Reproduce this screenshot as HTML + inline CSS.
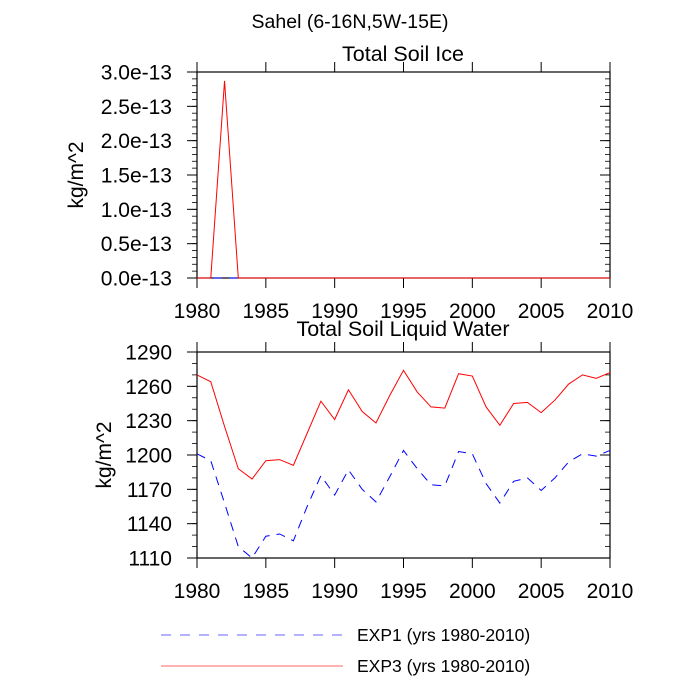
<!DOCTYPE html>
<html><head><meta charset="utf-8"><style>
html,body{margin:0;padding:0;background:#fff}
svg{display:block;font-family:"Liberation Sans",sans-serif}
</style></head><body>
<svg id="c" width="700" height="700" viewBox="0 0 700 700">
<text x="350" y="28" font-size="19.5" text-anchor="middle">Sahel (6-16N,5W-15E)</text>
<text x="403" y="61" font-size="21.5" text-anchor="middle">Total Soil Ice</text>
<text x="403" y="336" font-size="21.5" text-anchor="middle">Total Soil Liquid Water</text>
<text transform="translate(83,175) rotate(-90)" font-size="21" text-anchor="middle">kg/m^2</text>
<text transform="translate(111,455) rotate(-90)" font-size="21" text-anchor="middle">kg/m^2</text>
<g id="top"></g>
<g id="bot"></g>
<g>
<line x1="161" y1="635" x2="343" y2="635" stroke="#6666ff" stroke-width="1" stroke-dasharray="10,9"/>
<text x="357" y="641" font-size="17.5">EXP1 (yrs 1980-2010)</text>
<line x1="161" y1="666" x2="343" y2="666" stroke="#ff6666" stroke-width="1"/>
<text x="357" y="672" font-size="17.5">EXP3 (yrs 1980-2010)</text>
</g>
</svg>
<script>
const years=[];for(let y=1980;y<=2010;y++)years.push(y);
const xTicks=[1980,1985,1990,1995,2000,2005,2010];
const iceExp1=new Array(31).fill(0);
const iceExp3=[0,0,2.87,0,0,0,0,0,0,0,0,0,0,0,0,0,0,0,0,0,0,0,0,0,0,0,0,0,0,0,0];
const iceTicks=[0,0.5,1.0,1.5,2.0,2.5,3.0];
const iceTickLabels=["0.0e-13","0.5e-13","1.0e-13","1.5e-13","2.0e-13","2.5e-13","3.0e-13"];
const liqExp3=[1270,1264,1225,1188,1179,1195,1196,1191,1219,1247,1231,1257,1238,1228,1252,1274,1255,1242,1241,1271,1269,1242,1226,1245,1246,1237,1248,1262,1270,1267,1272];
const liqExp1=[1201,1195,1158,1120,1110,1129,1131,1125,1155,1182,1165,1187,1170,1159,1181,1204,1188,1174,1173,1203,1201,1175,1158,1177,1180,1169,1180,1194,1201,1199,1204];
const liqTicks=[1110,1140,1170,1200,1230,1260,1290];
const NS="http://www.w3.org/2000/svg";
function mk(p,t,a){const e=document.createElementNS(NS,t);for(const k in a)e.setAttribute(k,a[k]);p.appendChild(e);return e;}
function panel(g,top,bot,ymin,ymax,ticks,labels,minorStep,s1,s3){
  const L=197,R=610;
  const X=v=>L+(v-1980)*(R-L)/30;
  const Y=v=>bot-(v-ymin)*(bot-top)/(ymax-ymin);
  let b=mk(g,'rect',{x:L,y:top,width:R-L,height:bot-top,fill:'none',stroke:'#000','stroke-width':1.2});
  
  
  for(let v=ymin;v<=ymax+1e-9;v+=minorStep){
    const y=Y(v);
    mk(g,'line',{x1:L-5,y1:y,x2:L,y2:y,stroke:'#000','stroke-width':0.8});
    mk(g,'line',{x1:R-5,y1:y,x2:R,y2:y,stroke:'#000','stroke-width':0.8});
  }
  ticks.forEach((v,i)=>{
    const y=Y(v);
    mk(g,'line',{x1:L-10,y1:y,x2:L,y2:y,stroke:'#000','stroke-width':1});
    mk(g,'line',{x1:R-10,y1:y,x2:R,y2:y,stroke:'#000','stroke-width':1});
    const t=mk(g,'text',{x:L-25,y:y+7.5,'font-size':21,'text-anchor':'end'});
    t.textContent=labels?labels[i]:String(v);
    
    
  });
  xTicks.forEach(v=>{
    const x=X(v);
    mk(g,'line',{x1:x,y1:bot,x2:x,y2:bot+10,stroke:'#000','stroke-width':1});
    mk(g,'line',{x1:x,y1:top-10,x2:x,y2:top,stroke:'#000','stroke-width':1});
    const t=mk(g,'text',{x:x,y:bot+40,'font-size':21,'text-anchor':'middle'});
    t.textContent=String(v);
    
    
  });
  const p1=mk(g,'polyline',{points:s1.map((v,i)=>X(years[i])+','+Y(v)).join(' '),fill:'none',stroke:'#0000ff','stroke-width':1,'stroke-dasharray':'9,7'});
  
  
  const p3=mk(g,'polyline',{points:s3.map((v,i)=>X(years[i])+','+Y(v)).join(' '),fill:'none',stroke:'#ff0000','stroke-width':1});
  
  
}
panel(document.getElementById('top'),72,278,0,3.0,iceTicks,iceTickLabels,0.1,iceExp1,iceExp3);
panel(document.getElementById('bot'),352,558,1110,1290,liqTicks,null,10,liqExp1,liqExp3);
</script>
</body></html>
